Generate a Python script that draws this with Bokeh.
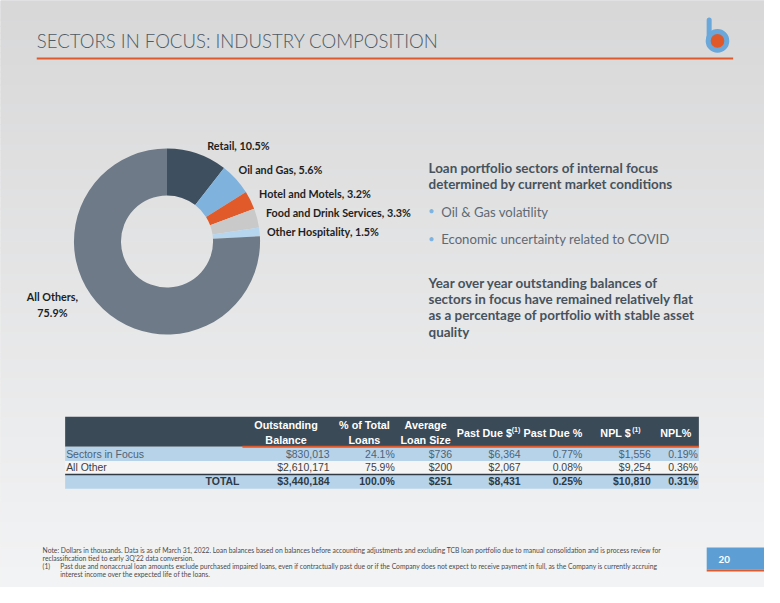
import numpy as np
from bokeh.plotting import figure
from bokeh.models import ColumnDataSource, Range1d
from bokeh.core.properties import value
from bokeh.embed import file_html
from bokeh.resources import INLINE

# ---------------- data ----------------
sectors = ["Retail", "Oil and Gas", "Hotel and Motels", "Food and Drink Services",
           "Other Hospitality", "All Others"]
shares = [10.5, 5.6, 3.2, 3.3, 1.5, 75.9]
sector_colors = ["#3e505f", "#7fb3de", "#e05a2a", "#c9c9c9", "#b6d6ef", "#6e7a88"]

row_labels = ["Sectors in Focus", "All Other", "TOTAL"]
outstanding = ["$830,013", "$2,610,171", "$3,440,184"]
pct_total = ["24.1%", "75.9%", "100.0%"]
avg_size = ["$736", "$200", "$251"]
past_due = ["$6,364", "$2,067", "$8,431"]
past_due_pct = ["0.77%", "0.08%", "0.25%"]
npl = ["$1,556", "$9,254", "$10,810"]
npl_pct = ["0.19%", "0.36%", "0.31%"]

header_lines = [["Outstanding", "Balance"], ["% of Total", "Loans"], ["Average", "Loan Size"],
                ["Past Due $"], ["Past Due %"], ["NPL $"], ["NPL%"]]
header_sup = [False, False, False, True, False, True, False]

title = "SECTORS IN FOCUS: INDUSTRY COMPOSITION"
focus_head = ["Loan portfolio sectors of internal focus", "determined by current market conditions"]
bullets = ["Oil & Gas volatility", "Economic uncertainty related to COVID"]
para = ["Year over year outstanding balances of", "sectors in focus have remained relatively flat",
        "as a percentage of portfolio with stable asset", "quality"]
notes = [
    "Note: Dollars in thousands. Data is as of March 31, 2022. Loan balances based on balances before accounting adjustments and excluding TCB loan portfolio due to manual consolidation and is process review for",
    "reclassification  tied to early 3Q'22 data conversion.",
    "Past due and nonaccrual loan amounts exclude purchased impaired loans, even if contractually past due or if the Company does not expect to receive payment in full, as the Company is currently accruing",
    "interest income over the expected life of the loans.",
]
page_no = "20"

# ---------------- figure ----------------
W, H = 780, 603
S = 764 / 780.0  # pixel scale of the figure relative to the slide
def Y(y):
    return H - y

p = figure(width=764, height=587, x_range=Range1d(0, W), y_range=Range1d(0, H),
           output_backend="svg", toolbar_location=None, min_border=0,
           x_axis_type=None, y_axis_type=None)
p.grid.visible = False
p.outline_line_color = None
p.background_fill_color = "#e6e6e6"
p.border_fill_color = "#e6e6e6"

# background gradient
n = 90
edges = np.linspace(0, H, n + 1)
c0 = np.array([0xd8, 0xd8, 0xd9])
c1 = np.array([0xf3, 0xf4, 0xf5])
cols = []
for i in range(n):
    t = (i + 0.5) / n
    c = (c0 + (c1 - c0) * t).astype(int)
    cols.append("#%02x%02x%02x" % tuple(c))
p.quad(left=0, right=W, top=Y(edges[:-1]), bottom=Y(edges[1:]), fill_color=cols,
       line_color=cols, line_width=1)


def txt(x, y, t, size, color, bold=False, align="left", font="Lato", baseline="middle"):
    p.text(x=[x], y=[Y(y)], text=[t], text_font=value(font), text_font_size=f"{size * S:.2f}px",
           text_color=color, text_font_style="bold" if bold else "normal",
           text_align=align, text_baseline=baseline)


# title + rule
txt(37, 42, title, 19, "#4f5a63", font="Lato Light")
p.segment(x0=37, y0=Y(59.5), x1=748, y1=Y(59.5), line_color="#e0592a", line_width=2)

# logo
p.segment(x0=723.5, y0=Y(20), x1=723.5, y1=Y(41), line_color="#6aa7da", line_width=5, line_cap="round")
p.circle(x=732, y=Y(41.5), radius=9.5, fill_color="#e0592a", line_color="#6aa7da", line_width=5)

# donut
fr = np.array(shares) / np.sum(shares)
cum = np.concatenate([[0.0], np.cumsum(fr)])
wsrc = ColumnDataSource(dict(start=np.pi / 2 - 2 * np.pi * cum[:-1],
                             end=np.pi / 2 - 2 * np.pi * cum[1:],
                             color=sector_colors))
p.annular_wedge(x=170, y=Y(247.5), inner_radius=47, outer_radius=95,
                start_angle="start", end_angle="end", direction="clock",
                fill_color="color", line_color=None, source=wsrc)

lab_pos = [(211, 149), (243, 174), (264, 198), (271, 218), (272, 237)]
for i, (lx, ly) in enumerate(lab_pos):
    txt(lx, ly, f"{sectors[i]}, {shares[i]}%", 11, "#1e1e1e", bold=True)
txt(53, 304, f"{sectors[5]},", 11, "#1e1e1e", bold=True, align="center")
txt(53, 320, f"{shares[5]}%", 11, "#1e1e1e", bold=True, align="center")

# right text
for i, line in enumerate(focus_head):
    txt(437, 172 + i * 17, line, 13.7, "#47525c", bold=True)
for i, line in enumerate(bullets):
    yy = 217 + i * 28.5
    txt(440, yy - 1, "\u2022", 11, "#7db3e0", align="center")
    txt(450, yy, line, 13.4, "#5e6974")
for i, line in enumerate(para):
    txt(437, 290 + i * 16.7, line, 13.7, "#47525c", bold=True)

# table
tl, tr = 66, 713
p.quad(left=tl, right=tr, top=Y(427.5), bottom=Y(458.5), fill_color="#3b4a57", line_color=None)
p.quad(left=tl, right=tr, top=Y(458.5), bottom=Y(473), fill_color="#b7d3ea", line_color=None)
p.quad(left=tl, right=tr, top=Y(473), bottom=Y(486.5), fill_color="#f5f5f5", line_color=None)
p.quad(left=tl, right=tr, top=Y(487.5), bottom=Y(501.5), fill_color="#b7d3ea", line_color=None)
p.segment(x0=247, y0=Y(458.5), x1=tr, y1=Y(458.5), line_color="#e0592a", line_width=2)
p.segment(x0=tl, y0=Y(487), x1=tr, y1=Y(487), line_color="#2f3a44", line_width=1.5)

head_cx = [291.5, 371.5, 434, 494, 564, 628, 689.5]
col_right = [336, 402.5, 461, 531, 594, 664, 712]
for j, lines in enumerate(header_lines):
    if len(lines) == 2:
        txt(head_cx[j], 436, lines[0], 11, "white", bold=True, align="center", font="Liberation Sans")
        txt(head_cx[j], 451, lines[1], 11, "white", bold=True, align="center", font="Liberation Sans")
    else:
        txt(head_cx[j], 444, lines[0], 11, "white", bold=True, align="center", font="Liberation Sans")
    if header_sup[j]:
        w = {3: 27, 5: 16}[j]
        txt(head_cx[j] + w + 1, 441, "(1)", 7, "white", bold=True, font="Liberation Sans")

row_y = [466, 479.5, 494.5]
row_col = ["#4d6378", "#3e3e3e", "#2e3a44"]
columns = [outstanding, pct_total, avg_size, past_due, past_due_pct, npl, npl_pct]
for i in range(3):
    bold = i == 2
    if i < 2:
        txt(67, row_y[i], row_labels[i], 10.7, row_col[i], font="Liberation Sans")
    else:
        txt(244, row_y[i], row_labels[i], 10.7, row_col[i], bold=True, align="right", font="Liberation Sans")
    for j, colvals in enumerate(columns):
        txt(col_right[j], row_y[i], colvals[i], 10.7, row_col[i], bold=bold, align="right",
            font="Liberation Sans")

# footnotes
fs = 6.9
txt(43, 564, notes[0], fs, "#4a4a4a")
txt(43, 572.5, notes[1], fs, "#4a4a4a")
txt(43, 581, "(1)", fs, "#4a4a4a")
txt(61, 581, notes[2], fs, "#4a4a4a")
txt(61, 589.5, notes[3], fs, "#4a4a4a")

# page number box
p.quad(left=721, right=W, top=Y(562), bottom=Y(584.5), fill_color="#5d9fd4", line_color=None)
p.quad(left=721, right=W, top=Y(584.5), bottom=Y(586.5), fill_color="#e0592a", line_color=None)
txt(733, 574, page_no, 10, "white", bold=True)

open("out.html", "w").write(file_html(p, INLINE))
